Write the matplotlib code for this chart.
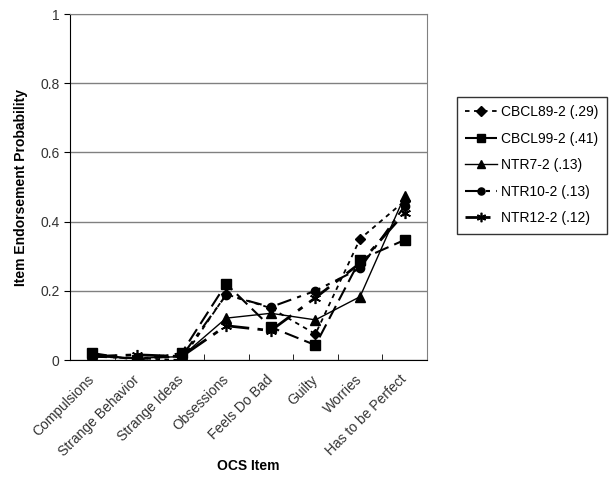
import matplotlib
matplotlib.use("Agg")
import matplotlib.pyplot as plt
import matplotlib.transforms as mtransforms
import numpy as np

plt.rcParams['font.family'] = ['Liberation Sans', 'DejaVu Sans']

categories = ["Compulsions", "Strange Behavior", "Strange Ideas", "Obsessions",
              "Feels Do Bad", "Guilty", "Worries", "Has to be Perfect"]
cbcl89 = [0.010, 0.005, 0.000, 0.190, 0.150, 0.075, 0.350, 0.460]
cbcl99 = [0.020, 0.000, 0.020, 0.220, 0.095, 0.043, 0.290, 0.347]
ntr7   = [0.010, 0.005, 0.010, 0.121, 0.135, 0.116, 0.183, 0.474]
ntr10  = [0.010, 0.005, 0.010, 0.188, 0.153, 0.200, 0.265, 0.445]
ntr12  = [0.010, 0.015, 0.010, 0.099, 0.085, 0.180, 0.280, 0.425]
labels = ["CBCL89-2 (.29)", "CBCL99-2 (.41)", "NTR7-2 (.13)", "NTR10-2 (.13)", "NTR12-2 (.12)"]
yticks = [0, 0.2, 0.4, 0.6, 0.8, 1]
ytick_labels = ["0", "0.2", "0.4", "0.6", "0.8", "1"]

fig = plt.figure(figsize=(6.14, 4.83), dpi=100)
ax = fig.add_axes([70/614, 1-360/483, (427-70)/614, (360-14)/483])

x = np.arange(len(categories))
styles = [
    dict(marker='D', ms=5.5, ls=(0, (2.5, 2.5)), lw=1.3),
    dict(marker='s', ms=6.5, ls=(0, (7, 3)), lw=1.5),
    dict(marker='^', ms=6.5, ls='-', lw=1.0),
    dict(marker='o', ms=6, ls=(0, (7, 3, 2, 3)), lw=1.5),
    dict(marker=(6, 2, 0), ms=8, ls=(0, (9, 3, 2, 3)), lw=2.0, mew=1.2),
]
for vals, lab, st in zip([cbcl89, cbcl99, ntr7, ntr10, ntr12], labels, styles):
    ax.plot(x, vals, color='black', label=lab, **st)

ax.set_xlim(-0.5, len(categories) - 0.5)
ax.set_ylim(0, 1)
ax.set_yticks(yticks)
ax.set_yticklabels(ytick_labels, fontsize=10, color='#333333')
ax.yaxis.grid(True, color='#808080', lw=1.0)
ax.set_axisbelow(True)

ax.set_xticks(x)
ax.set_xticklabels(categories, rotation=45, ha='right', va='top',
                   rotation_mode='anchor', fontsize=10, color='#333333')
ax.tick_params(axis='x', which='major', length=0, pad=9)
shift = mtransforms.ScaledTranslation(-5/100, 0, fig.dpi_scale_trans)
for lbl in ax.get_xticklabels():
    lbl.set_transform(lbl.get_transform() + shift)
ax.set_xticks(np.arange(0.5, len(categories) - 1, 1), minor=True)
ax.tick_params(axis='x', which='minor', length=4, direction='in', color='black')
ax.tick_params(axis='y', length=4, direction='out', color='black')

for s in ['left', 'bottom']:
    ax.spines[s].set_color('black')
ax.spines['top'].set_color('#808080')
ax.spines['right'].set_color('#808080')

ax.set_ylabel("Item Endorsement Probability", fontsize=10, fontweight='bold', labelpad=9)
ax.set_xlabel("OCS Item", fontsize=10, fontweight='bold', labelpad=0)

leg = fig.legend(loc='upper left', bbox_to_anchor=(457/614, 1-97/483),
                 bbox_transform=fig.transFigure, fontsize=10, frameon=True,
                 fancybox=False, edgecolor='black', handlelength=2.3,
                 handletextpad=0.3, labelspacing=0.9, borderpad=0.6,
                 borderaxespad=0.0, markerscale=0.85)
leg.get_frame().set_linewidth(1.0)

fig.savefig("out.png", dpi=100)
